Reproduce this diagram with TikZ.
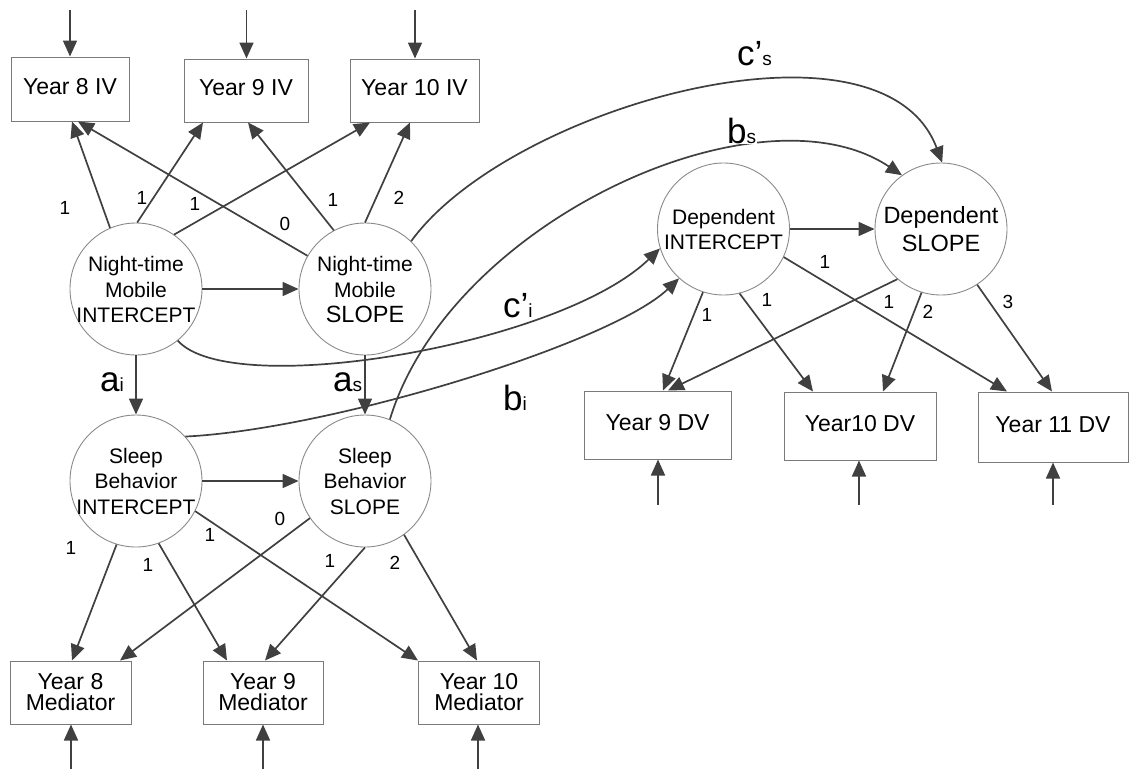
\documentclass[tikz,border=0pt]{standalone}
\usepackage{fontspec}
\setmainfont{Liberation Sans}
\usetikzlibrary{arrows.meta}
\definecolor{linegray}{HTML}{404040}
\definecolor{rimgray}{HTML}{8A8A8A}
\definecolor{boxgray}{HTML}{7A7A7A}
\newcommand\setfs[2]{\fontsize{#1}{#2}\selectfont}
\newcommand\smallsub[1]{{\setfs{19}{19}#1}}

\begin{document}
\begin{tikzpicture}[x=1pt,y=-1pt,
  conn/.style={draw=linegray, line width=1.7pt, -{Triangle[length=16pt,width=14pt]}},
  obsbox/.style={draw=boxgray, line width=1pt, inner sep=0pt, align=center,
                 font=\setfs{23}{21}},
  onebox/.style={obsbox, text height=16.5pt, text depth=6.5pt},
  latent/.style={circle, draw=rimgray, line width=0.9pt, minimum size=132pt, inner sep=0pt},
  lattext/.style={inner sep=0pt, align=center, font=\setfs{21}{25.5}},
  num/.style={inner sep=0pt, font=\setfs{19}{19}},
  pathlab/.style={inner sep=0pt, anchor=base west, font=\setfs{35}{35}}
]
\useasboundingbox (0,0) rectangle (1130,769);

% ---------- observed indicators ----------
\node[onebox, minimum width=118pt, minimum height=64pt] (y8iv)  at (70,89)    {Year 8 IV};
\node[onebox, minimum width=124pt, minimum height=63pt] (y9iv)  at (246,90.5) {Year 9 IV};
\node[onebox, minimum width=129pt, minimum height=63pt] (y10iv) at (414.5,90.5) {Year 10 IV};

\node[obsbox, minimum width=121pt, minimum height=63pt] (y8med)  at (70.5,692.5) {Year 8\\Mediator};
\node[obsbox, minimum width=120pt, minimum height=63pt] (y9med)  at (263,692.5)  {Year 9\\Mediator};
\node[obsbox, minimum width=121pt, minimum height=63pt] (y10med) at (479,692.5)  {Year 10\\Mediator};

\node[onebox, minimum width=147pt, minimum height=68pt] (y9dv)  at (657.5,425) {Year 9 DV};
\node[onebox, minimum width=152pt, minimum height=68pt] (y10dv) at (860,426)   {Year10 DV};
\node[onebox, minimum width=150pt, minimum height=70pt] (y11dv) at (1053,427)  {Year 11 DV};

% ---------- latent growth factors ----------
\node[latent] (ni) at (136,289) {};
\node[latent] (ns) at (365,289) {};
\node[latent] (si) at (136,481) {};
\node[latent] (ss) at (365,481) {};
\node[latent] (di) at (723.5,229) {};
\node[latent] (ds) at (941,229) {};

\node[lattext] (niT) at (136,289.5) {Night-time\\Mobile\\INTERCEPT};
\node[lattext] (nsT) at (365,289.5) {Night-time\\Mobile\\{\setfs{23.5}{25.5}SLOPE}};
\node[lattext] (siT) at (136,481) {Sleep\\Behavior\\INTERCEPT};
\node[lattext] (ssT) at (365,481) {Sleep\\Behavior\\SLOPE};
\node[lattext, font=\setfs{21}{25}] (diT) at (723.5,229) {Dependent\\INTERCEPT};
\node[lattext, font=\setfs{23.5}{28}] (dsT) at (941,229.5) {Dependent\\SLOPE};

% ---------- residual arrows ----------
\coordinate (r8iv)  at (70,10);
\coordinate (r9iv)  at (246.5,10);
\coordinate (r10iv) at (415,10);
\coordinate (r8med)  at (71,769);
\coordinate (r9med)  at (263,769);
\coordinate (r10med) at (478,769);
\coordinate (r9dv)  at (658,505);
\coordinate (r10dv) at (859,505);
\coordinate (r11dv) at (1053,505);

\draw[conn] (r8iv)  -- (y8iv.north);
\draw[conn] (r9iv)  -- ([xshift=0.5pt]y9iv.north);
\draw[conn] (r10iv) -- ([xshift=0.5pt]y10iv.north);
\draw[conn] (r8med)  -- ([xshift=0.5pt]y8med.south);
\draw[conn] (r9med)  -- (y9med.south);
\draw[conn] (r10med) -- ([xshift=-1pt]y10med.south);
\draw[conn] (r9dv)  -- ([xshift=0.5pt]y9dv.south);
\draw[conn] (r10dv) -- ([xshift=-1pt]y10dv.south);
\draw[conn] (r11dv) -- (y11dv.south);

% ---------- night-time mobile loadings ----------
\draw[conn] (ni.113) -- ([xshift=2pt]y8iv.south);
\draw[conn] (ni.89)  -- ([xshift=-43pt]y9iv.south);
\draw[conn] (ni.55)  -- ([xshift=-44.5pt]y10iv.south);
\draw[conn] (ns.150) -- ([xshift=8pt]y8iv.south);
\draw[conn] (ns.118) -- ([xshift=2pt]y9iv.south);
\draw[conn] (ns.90)  -- ([xshift=-4.5pt]y10iv.south);

\node[num] (n1) at (65,208)  {1};
\node[num] (n2) at (142,198) {1};
\node[num] (n3) at (195,204) {1};
\node[num] (n4) at (285,224) {0};
\node[num] (n5) at (333,200) {1};
\node[num] (n6) at (399,198) {2};

% ---------- sleep behavior loadings ----------
\draw[conn] (si.253) -- ([xshift=1.5pt]y8med.north);
\draw[conn] (si.290) -- ([xshift=-36pt]y9med.north);
\draw[conn] (si.333) -- ([xshift=-61pt]y10med.north);
\draw[conn] (ss.214) -- ([xshift=49.5pt]y8med.north);
\draw[conn] (ss.270) -- ([xshift=2pt]y9med.north);
\draw[conn] (ss.306) -- ([xshift=-2pt]y10med.north);

\node[num] (m1) at (71,548)  {1};
\node[num] (m2) at (148,565) {1};
\node[num] (m3) at (210,535) {1};
\node[num] (m4) at (280,519) {0};
\node[num] (m5) at (330,561) {1};
\node[num] (m6) at (395,563) {2};

% ---------- dependent loadings ----------
\draw[conn] (di.252)   -- ([xshift=5.5pt]y9dv.north);
\draw[conn] (di.284.5) -- ([xshift=-47pt]y10dv.north);
\draw[conn] (di.335)   -- ([xshift=-46pt]y11dv.north);
\draw[conn] (ds.229)   -- ([xshift=10.5pt]y9dv.north);
\draw[conn] (ds.253.5) -- ([xshift=23pt]y10dv.north);
\draw[conn] (ds.303.5) -- ([xshift=-1pt]y11dv.north);

\node[num] (d1) at (707,315)  {1};
\node[num] (d2) at (767,300)  {1};
\node[num] (d3) at (825,262)  {1};
\node[num] (d4) at (889,302)  {1};
\node[num] (d5) at (928,312)  {2};
\node[num] (d6) at (1008,302) {3};

% ---------- structural paths ----------
\draw[conn] (ni.east) -- (ns.west);
\draw[conn] (si.east) -- (ss.west);
\draw[conn] (di.east) -- (ds.west);
\draw[conn] (ni.south) -- (si.north);
\draw[conn] (ns.south) -- (ss.north);

\draw[conn] (ns.46)  .. controls +(98,-135) and +(-60,-160) .. (ds.89);
\draw[conn] (ss.68)  .. controls +(60,-198) and +(-142,-95) .. (ds.126);
\draw[conn] (ni.-51) .. controls +(53,60)   and +(-100,97)  .. (di.197);
\draw[conn] (si.42)  .. controls +(145,-7)  and +(-68,65)   .. (di.228);

% ---------- path coefficients ----------
\node[pathlab] (pai) at (100,391) {a\smallsub{i}};
\node[pathlab] (pas) at (333,391) {a\smallsub{s}};
\node[pathlab] (pci) at (503,317) {c'\smallsub{i}};
\node[pathlab] (pbi) at (503,410) {b\smallsub{i}};
\node[pathlab] (pcs) at (737,65)  {c'\smallsub{s}};
\node[pathlab, fill=white, inner sep=1pt] (pbs) at (726,143) {b\smallsub{s}};

\end{tikzpicture}
\end{document}
